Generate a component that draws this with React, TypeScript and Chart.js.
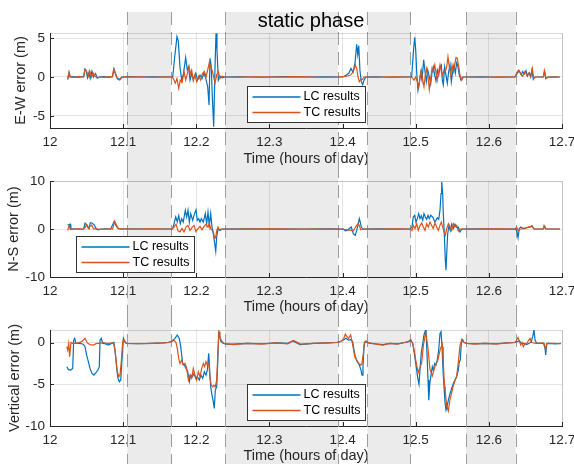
import React, { useEffect, useRef } from 'react';
import { Chart, registerables } from 'chart.js';

Chart.register(...registerables);

// ---------- data ----------
const xTicks = [12, 12.1, 12.2, 12.3, 12.4, 12.5, 12.6, 12.7];
const xTickLabels = ['12', '12.1', '12.2', '12.3', '12.4', '12.5', '12.6', '12.7'];
const staticStart = [12.1057, 12.2393, 12.434, 12.5688];
const staticEnd = [12.1654, 12.394, 12.4926, 12.6367];
const staticLabel = 'static phase';
const seriesLabels = ['LC results', 'TC results'];
const ewTicks = [-5, 0, 5];
const nsTicks = [-10, 0, 10];
const vTicks = [-10, -5, 0];

const ewLC = [
  [12.0242, -0.3], [12.026, 0.55], [12.0275, 0], [12.032, 0.05], [12.038, -0.05], [12.044, 0.05], [12.0462, 0.1],
  [12.0477, 1.0], [12.0495, 0.8], [12.0513, -0.1], [12.0532, 0.55], [12.055, -0.2], [12.0573, 0.75], [12.0595, 0],
  [12.0622, 0.45], [12.065, -0.15], [12.068, 0], [12.074, 0.05], [12.08, -0.05], [12.0855, 0.05], [12.0875, 1.05],
  [12.0893, 0.45], [12.0916, -0.15], [12.0951, -0.3], [12.098, 0], [12.106, 0.05], [12.12, 0], [12.14, 0.03], [12.16, 0],
  [12.1678, 0], [12.1705, 2.6], [12.1736, 5.2], [12.1754, 4.6], [12.1777, 1.3], [12.1801, -0.4], [12.1822, 0.25],
  [12.1855, 2.5], [12.1877, 0.9], [12.1896, 1.3], [12.1914, -0.4], [12.1937, 0.4], [12.1959, -0.3], [12.1992, 0.5],
  [12.2019, -0.4], [12.2051, 0.25], [12.2078, -0.2], [12.2105, 0.5], [12.2133, -0.3], [12.2156, -1.25], [12.2174, -3.6],
  [12.2188, 2.4], [12.2205, 1.3], [12.2219, -2.5], [12.2238, -6.4], [12.2256, 1.3], [12.227, 5.6], [12.2283, 3.5],
  [12.2301, -0.4], [12.2324, 0.1], [12.2356, -0.1], [12.2393, 0],
  [12.26, 0.03], [12.29, -0.03], [12.32, 0.05], [12.35, 0], [12.38, 0.03], [12.401, 0],
  [12.4056, 0.3], [12.4088, 0.5], [12.4115, 1.1], [12.4143, 0.6], [12.417, 1.8], [12.4193, 4.2], [12.4207, 2.9],
  [12.4221, 4.0], [12.4238, 0.8], [12.4256, -0.6], [12.4275, -1.0], [12.4293, -0.4], [12.432, 0],
  [12.445, 0.03], [12.465, -0.03], [12.485, 0],
  [12.4945, 0], [12.4967, 3.1], [12.4986, 5.1], [12.5, 3.5], [12.5014, 0.5], [12.5031, -1.7], [12.5049, -0.8],
  [12.5068, 0.55], [12.5086, -0.4], [12.5109, 2.2], [12.5127, 0.7], [12.5145, -0.6], [12.5164, 0.9], [12.5186, 0],
  [12.5205, -0.9], [12.5223, 0.55], [12.524, 1.3], [12.526, 0.25], [12.5277, -0.5], [12.5295, 0.9], [12.5314, 0.25],
  [12.5332, 1.3], [12.535, 1.55], [12.5364, -0.4], [12.5377, -1.0], [12.5396, 1.3], [12.5414, 0.25], [12.5432, -0.8],
  [12.5451, 0.7], [12.5469, 1.55], [12.5487, -0.6], [12.5506, 0.7], [12.5523, 1.55], [12.5541, 0.5], [12.556, 1.8],
  [12.5578, 1.3], [12.5596, 0.25], [12.5619, -0.4], [12.5642, 0], [12.5674, 0],
  [12.59, 0.03], [12.61, -0.03], [12.63, 0],
  [12.6358, 0], [12.6389, 0.5], [12.6416, 0.8], [12.6444, 0.25], [12.6463, 0.7], [12.6485, 0.4], [12.6508, 0.8],
  [12.6526, 0.1], [12.6553, 0.55], [12.6572, 0], [12.659, 0.9], [12.6608, -0.3], [12.6631, 0], [12.6744, 0],
  [12.6764, 0.7], [12.6781, -0.2], [12.6813, 0], [12.69, 0.02], [12.697, 0],
];

const ewTC = [
  [12.0242, -0.3], [12.026, 0.65], [12.0278, 0], [12.033, -0.05], [12.04, 0.05], [12.046, 0], [12.0479, 1.0],
  [12.0501, 0.7], [12.0524, 0.1], [12.0542, 0.8], [12.057, 0], [12.0588, 0.55], [12.0615, 0.1], [12.0643, -0.1],
  [12.067, 0], [12.075, -0.05], [12.082, 0.05], [12.085, 0], [12.0871, 1.0], [12.0898, 0.4], [12.0925, -0.3],
  [12.0953, -0.4], [12.098, -0.1], [12.1008, 0], [12.12, 0.03], [12.14, -0.03], [12.16, 0.02],
  [12.1664, 0], [12.1686, -0.2], [12.1713, -0.8], [12.1736, -0.2], [12.176, -1.45], [12.1781, -0.4], [12.1805, -0.7],
  [12.1832, 0.7], [12.1855, -0.4], [12.1877, 0.4], [12.19, 1.4], [12.1918, 0.4], [12.1937, 0.9], [12.1959, -0.5],
  [12.1982, 0.25], [12.2005, -0.6], [12.2033, 0.1], [12.206, -0.4], [12.2082, 0.4], [12.211, 0.7], [12.2133, 0],
  [12.2156, 0.9], [12.2178, 1.85], [12.2197, 1.3], [12.2215, 0.9], [12.2233, 0.25], [12.2256, -0.8], [12.2279, 0.25],
  [12.2301, 0.7], [12.2324, -0.2], [12.2352, 0.1], [12.2393, 0],
  [12.255, -0.03], [12.28, 0.03], [12.31, 0], [12.34, 0.04], [12.37, -0.03], [12.395, 0],
  [12.4056, 0.1], [12.411, 0.25], [12.4147, 0.7], [12.4174, 1.55], [12.4193, 1.1], [12.4211, 0], [12.4229, -0.6],
  [12.4247, -0.3], [12.427, -0.3], [12.4293, 0],
  [12.445, -0.03], [12.47, 0.03], [12.49, 0],
  [12.4945, 0], [12.4977, -0.4], [12.5, 0], [12.5022, -0.6], [12.5041, -1.3], [12.5059, 0], [12.5076, 0.9],
  [12.5096, -0.4], [12.5113, -1.25], [12.5131, 0.25], [12.515, 1.1], [12.5168, 0], [12.5186, -1.6], [12.5205, -0.2],
  [12.5223, 1.1], [12.524, 0.7], [12.526, 1.55], [12.5277, 0.55], [12.5295, -0.4], [12.5314, 0.7], [12.5332, 1.55],
  [12.535, 0.7], [12.5369, 0.25], [12.5387, 0.9], [12.5405, 0.7], [12.5424, 1.3], [12.5441, 2.6], [12.5459, 1.3],
  [12.5478, 0.25], [12.5496, 1.55], [12.5514, 0.7], [12.5533, 1.55], [12.5551, 2.5], [12.5569, 2.4], [12.5588, 1.3],
  [12.5605, 0.25], [12.5629, -0.4], [12.5651, 0], [12.5674, 0],
  [12.59, -0.03], [12.615, 0.03], [12.63, 0],
  [12.6358, 0], [12.6389, 0.7], [12.6408, 0.9], [12.6435, 0.4], [12.6463, 0.1], [12.6494, 0.7], [12.6517, 0.25],
  [12.6545, 0.5], [12.6572, 0.05], [12.6594, 1.1], [12.6613, -0.2], [12.6635, 0], [12.6744, 0], [12.6758, 0.8],
  [12.6777, -0.2], [12.6805, 0], [12.69, -0.02], [12.697, 0],
];

const nsLC = [
  [12.0242, 1.0], [12.026, 0.8], [12.0275, 1.0], [12.0285, 0], [12.033, 0.05], [12.04, -0.05], [12.046, 0],
  [12.0479, 1.2], [12.0506, 0.8], [12.0533, 0.1], [12.0551, 1.3], [12.0579, 1.2], [12.0606, 0.8], [12.0633, 0],
  [12.0661, -0.2], [12.069, 0], [12.076, 0.05], [12.083, 0], [12.0875, 1.5], [12.0898, 0.8], [12.093, 0.1],
  [12.096, 0], [12.105, 0.03], [12.13, 0], [12.16, 0],
  [12.1678, 0], [12.1695, 1.1], [12.1719, 2.5], [12.174, 1.5], [12.176, 2.8], [12.1781, 1.1], [12.1801, 2.15],
  [12.1822, 1.45], [12.185, 3.9], [12.1869, 2.5], [12.1887, 3.9], [12.1905, 1.45], [12.1924, 3.2], [12.1951, 1.8],
  [12.1969, 2.85], [12.1996, 4.0], [12.2014, 1.8], [12.2033, 2.15], [12.2051, 1.45], [12.2069, 2.15], [12.2096, 1.45],
  [12.2123, 3.2], [12.2142, 1.1], [12.216, 3.55], [12.2178, 0.75], [12.2197, 3.2], [12.2215, 0.4], [12.2233, -1.0],
  [12.2252, -3.05], [12.2266, -4.6], [12.2279, -1.65], [12.2297, 0], [12.2324, -0.3], [12.2352, 0],
  [12.27, 0.03], [12.31, -0.03], [12.35, 0], [12.38, 0.03], [12.401, 0],
  [12.4037, -0.4], [12.4065, -0.3], [12.4092, 0.1], [12.4119, 0.4], [12.4147, -1.0], [12.4174, -1.3], [12.4193, -0.3],
  [12.4211, 0.75], [12.4229, 2.15], [12.4242, 1.45], [12.4256, 0.4], [12.4275, 0],
  [12.45, 0.03], [12.47, -0.03], [12.4922, 0],
  [12.4949, 0.4], [12.4967, 2.5], [12.4986, 2.85], [12.5004, 1.45], [12.5022, 2.15], [12.5041, 3.2], [12.5059, 2.15],
  [12.5076, 2.75], [12.5096, 1.8], [12.5113, 3.2], [12.5131, 2.5], [12.515, 2.0], [12.5168, 2.85], [12.5186, 2.15],
  [12.5205, 2.85], [12.5223, 2.6], [12.524, 2.35], [12.526, 1.45], [12.5277, 1.8], [12.5295, 2.35], [12.5314, 2.0],
  [12.5332, 3.9], [12.5346, 7.4], [12.5355, 9.8], [12.5369, 7.4], [12.5377, 3.2], [12.5391, -1.0], [12.5405, -6.5],
  [12.5414, -8.6], [12.5424, -5.1], [12.5437, -1.0], [12.5455, 0.75], [12.5473, -0.3], [12.5492, 1.0], [12.5514, 0.1],
  [12.5537, 1.0], [12.556, 0.3], [12.5582, 0.4], [12.5605, -0.6], [12.5633, 0],
  [12.59, 0.03], [12.615, -0.03], [12.6358, 0],
  [12.6381, -0.3], [12.6399, -1.8], [12.6416, 0.1], [12.6435, 0.4], [12.6471, 0.1], [12.6517, 0.3], [12.6563, 0.4],
  [12.659, 0.7], [12.6617, 0], [12.6744, 0], [12.6764, 0.55], [12.6781, 0], [12.6973, 0],
];

const nsTC = [
  [12.0242, -0.3], [12.0262, 0.75], [12.0278, -0.1], [12.033, 0], [12.04, 0.05], [12.046, 0], [12.0484, 0.4],
  [12.0501, 0.9], [12.0524, 0.1], [12.0542, 0.5], [12.057, 0.8], [12.0597, 0], [12.0625, 0.1], [12.066, 0],
  [12.073, -0.05], [12.08, 0.05], [12.0855, 0], [12.0884, 1.65], [12.0916, 0.55], [12.0943, 0], [12.097, 0.05],
  [12.11, 0], [12.14, 0.03], [12.1664, 0],
  [12.1695, 0.4], [12.1723, 1.0], [12.175, -0.4], [12.1777, -0.6], [12.1805, 0.1], [12.1832, -0.6], [12.1859, 0.4],
  [12.1887, 0.75], [12.1914, -0.3], [12.1941, 0.3], [12.1969, 0.75], [12.1996, -0.6], [12.2023, 0.1], [12.2051, 0.55],
  [12.2078, -0.15], [12.2105, 0.55], [12.2133, 1.0], [12.216, 0.4], [12.2178, 1.25], [12.2197, 0.1], [12.2215, -0.3],
  [12.2233, -0.6], [12.2252, -2.0], [12.2266, -1.65], [12.2279, -0.4], [12.2297, 0.4], [12.2315, -0.15], [12.2342, 0],
  [12.26, -0.03], [12.3, 0.03], [12.34, 0], [12.37, -0.03], [12.401, 0],
  [12.4037, -0.15], [12.4119, -0.3], [12.4147, -0.4], [12.4174, 0.3], [12.4193, 0.75], [12.4211, 1.1], [12.4229, 0.75],
  [12.4247, -0.15], [12.4275, 0],
  [12.455, -0.03], [12.475, 0.03], [12.4922, 0],
  [12.4949, -0.3], [12.4967, 0.75], [12.499, 0.1], [12.5014, 1.1], [12.5035, -0.3], [12.5059, 0.7], [12.5082, 1.25],
  [12.5104, 0.4], [12.5127, -0.3], [12.515, 1.1], [12.5172, 0.4], [12.5195, 1.45], [12.5218, 0.75], [12.524, 0.1],
  [12.5264, 1.25], [12.5287, 0.4], [12.5309, -0.3], [12.5332, 0.75], [12.535, 1.45], [12.5369, 0.4], [12.5387, -0.6],
  [12.5405, -1.3], [12.5424, 0.1], [12.5446, 1.1], [12.5469, 0.4], [12.5492, -0.3], [12.5514, 1.1], [12.5537, 0.4],
  [12.556, 0.75], [12.5582, -0.4], [12.5605, 0],
  [12.585, -0.03], [12.61, 0.03], [12.6358, 0],
  [12.6381, 0.4], [12.6403, -0.4], [12.6426, 0], [12.6494, 0.05], [12.654, 0.4], [12.6586, 0.55], [12.6617, 0],
  [12.6744, 0], [12.6754, 0.7], [12.6772, 0], [12.6973, 0],
];

const vLC = [
  [12.023, -2.9], [12.0252, -3.25], [12.0283, -3.3], [12.031, -3.1], [12.0324, 0.3], [12.0338, 0.5], [12.0355, -0.1],
  [12.041, -0.1], [12.0455, -0.2], [12.0479, -0.5], [12.0501, -1.5], [12.0524, -2.3], [12.0547, -3.1], [12.0574, -3.7],
  [12.0601, -3.9], [12.0629, -3.6], [12.0656, -3.3], [12.0674, -2.9], [12.0684, 0.3], [12.0701, 0.5], [12.072, -0.1],
  [12.0752, -0.15], [12.0797, -0.3], [12.0843, -0.1], [12.0875, 0], [12.0893, -1.3], [12.0912, -3.1], [12.093, -4.3],
  [12.0948, -4.7], [12.0967, -4.5], [12.0984, -2.1], [12.1003, 0.5], [12.1022, 0.1], [12.105, -0.1],
  [12.12, -0.15], [12.14, -0.1], [12.155, -0.05], [12.1617, 0],
  [12.1664, 0.15], [12.1709, 0.5], [12.174, 0.9], [12.1768, 0.5], [12.1787, -0.5], [12.1814, -2.5], [12.1836, -2.7],
  [12.1859, -3.1], [12.1883, -3.5], [12.1905, -4.7], [12.1924, -3.9], [12.1946, -4.1], [12.1969, -3.7], [12.1992, -4.3],
  [12.2014, -4.1], [12.2041, -4.5], [12.2064, -3.9], [12.2088, -4.3], [12.211, -3.5], [12.2133, -3.9], [12.2151, -3.3],
  [12.217, -1.3], [12.2183, -3.3], [12.2197, -5.3], [12.2215, -6.3], [12.2233, -7.1], [12.2246, -7.9], [12.226, -5.7],
  [12.2279, -5.3], [12.2293, -2.5], [12.2306, 1.1], [12.232, 0.7], [12.2338, 0.1], [12.2369, -0.1], [12.2416, -0.2],
  [12.25, -0.2], [12.27, -0.1], [12.29, -0.15], [12.31, -0.05], [12.325, -0.1], [12.332, 0.2], [12.342, -0.25],
  [12.36, -0.1], [12.38, -0.05], [12.392, 0],
  [12.3965, 0.1], [12.401, 0.3], [12.4047, 0.5], [12.4078, 0.3], [12.4111, 0.35], [12.4139, 0.1], [12.4156, -0.9],
  [12.4174, -1.7], [12.4201, -2.3], [12.4229, -2.7], [12.4252, -3.3], [12.4266, -3.9], [12.4279, -2.9], [12.4293, -0.5],
  [12.4307, 0.1], [12.4338, 0], [12.4375, -0.1],
  [12.445, -0.15], [12.455, -0.25], [12.465, -0.1], [12.475, -0.15], [12.485, 0], [12.4899, 0.1],
  [12.4932, 0.35], [12.4959, -0.1], [12.4981, -1.3], [12.5004, -2.7], [12.5027, -4.2], [12.5045, -5.0], [12.5059, -3.2],
  [12.5076, -1.2], [12.5096, -0.1], [12.5113, 0.9], [12.5131, 1.4], [12.5141, 1.5], [12.5155, -1.5], [12.5168, -4.5],
  [12.5179, -6.9], [12.5192, -5.0], [12.5209, -3.9], [12.5227, -2.9], [12.524, -3.3], [12.526, -2.5], [12.5277, -2.7],
  [12.5295, -2.1], [12.5314, -0.9], [12.5332, 1.1], [12.5346, 1.3], [12.536, -0.5], [12.5373, -3.3], [12.5387, -5.3],
  [12.54, -7.1], [12.5414, -8.1], [12.5428, -7.7], [12.5446, -6.9], [12.5469, -6.1], [12.5492, -5.5], [12.5514, -4.9],
  [12.5537, -4.5], [12.556, -4.1], [12.5582, -3.3], [12.5596, -2.3], [12.561, -2.1], [12.5623, -0.1], [12.5642, 0.35],
  [12.566, 0], [12.5697, -0.1],
  [12.58, -0.15], [12.595, -0.1], [12.61, -0.15], [12.625, -0.05], [12.6358, 0],
  [12.6389, 0.1], [12.6416, 0.2], [12.6444, -0.1], [12.6471, -0.1], [12.6517, -0.25], [12.6553, -0.1], [12.6581, 0.1],
  [12.6599, 0.7], [12.6617, 1.5], [12.6631, 0.3], [12.6654, -0.1], [12.6722, -0.1], [12.6754, -0.1], [12.6768, -0.7],
  [12.6777, -1.5], [12.6791, -0.2], [12.6809, -0.1], [12.6904, -0.15], [12.6986, -0.1],
];

const vTC = [
  [12.023, -0.5], [12.0242, -0.9], [12.0256, -0.1], [12.0269, -1.7], [12.0287, 0], [12.031, -0.1], [12.0365, -0.1],
  [12.0433, 0.1], [12.0479, 0.5], [12.051, -0.05], [12.0547, -0.25], [12.0593, -0.3], [12.0638, -0.1], [12.0684, -0.1],
  [12.0729, 0], [12.0775, -0.1], [12.082, -0.1], [12.0866, 0], [12.0889, -0.9], [12.0903, -2.1], [12.0921, -3.5],
  [12.094, -4.1], [12.0957, -3.9], [12.0976, -2.1], [12.0994, 0.1], [12.1012, 0.35], [12.1039, -0.1],
  [12.12, -0.15], [12.14, -0.1], [12.155, -0.05], [12.1617, 0],
  [12.1664, 0.1], [12.1695, 0.3], [12.1723, 0], [12.174, -0.7], [12.176, -1.9], [12.1777, -2.5], [12.1801, -2.1],
  [12.1822, -2.7], [12.1846, -2.5], [12.1869, -3.1], [12.1892, -4.5], [12.1914, -3.9], [12.1937, -4.3], [12.1959, -3.1],
  [12.1982, -3.9], [12.2005, -4.5], [12.2028, -3.5], [12.2051, -4.1], [12.2074, -3.1], [12.2096, -2.5], [12.2115, -2.9],
  [12.2133, -2.3], [12.2151, -2.7], [12.217, -2.5], [12.2188, -4.3], [12.2205, -5.1], [12.2224, -5.3], [12.2242, -5.1],
  [12.226, -5.3], [12.2279, -4.5], [12.2297, -0.9], [12.2311, 1.3], [12.2324, 0.7], [12.2347, 0.2], [12.2379, -0.1],
  [12.25, -0.25], [12.27, -0.1], [12.29, -0.2], [12.31, -0.05], [12.325, -0.15], [12.333, 0.25], [12.343, -0.2],
  [12.36, -0.1], [12.38, -0.05], [12.392, 0],
  [12.3965, 0.1], [12.401, 0.35], [12.4037, 1.0], [12.4056, 0.75], [12.4084, 0.5], [12.4111, 0.9], [12.4129, 0.1],
  [12.4147, -0.7], [12.4166, -1.7], [12.4193, -2.1], [12.4221, -2.5], [12.4248, -2.7], [12.4266, -2.5], [12.4284, -1.3],
  [12.4297, 0], [12.432, 0.2], [12.4352, 0],
  [12.445, -0.2], [12.455, -0.3], [12.465, -0.1], [12.475, -0.2], [12.485, 0], [12.4899, 0.1],
  [12.4932, 0.2], [12.4959, -0.1], [12.4981, -1.0], [12.5004, -2.3], [12.5035, -3.6], [12.5059, -3.0], [12.5082, -2.4],
  [12.5104, -0.4], [12.5137, 1.2], [12.5164, -0.4], [12.5195, -3.2], [12.5227, -4.0], [12.5264, -2.8], [12.5301, -2.2],
  [12.5336, -0.8], [12.5364, -0.2], [12.5391, -4.8], [12.5424, -7.6], [12.5446, -8.2], [12.5469, -6.8], [12.5492, -6.0],
  [12.5514, -5.2], [12.5537, -4.6], [12.556, -4.0], [12.5582, -2.4], [12.5605, -0.4], [12.5629, 0.35], [12.5664, 0],
  [12.5701, -0.1],
  [12.58, -0.2], [12.595, -0.1], [12.61, -0.2], [12.625, -0.05], [12.6358, 0],
  [12.6381, 0.3], [12.6399, 0.6], [12.6416, 0.2], [12.6435, -0.3], [12.6453, 0], [12.6471, -0.5], [12.6494, -0.1],
  [12.6517, -0.15], [12.6545, 0.3], [12.6563, 0.5], [12.6581, 0], [12.6645, -0.1], [12.6744, -0.05], [12.6764, -0.5],
  [12.6777, -0.8], [12.6791, -0.1], [12.6904, -0.1], [12.6986, -0.15],
];

// ---------- styling ----------
const FONT = "'Liberation Sans', Arial, Helvetica, sans-serif";
const AXIS_COLOR = '#262626';
const LC_COLOR = '#0072BD';
const TC_COLOR = '#D95319';
const SHADE = '#ebebeb';

type Panel = {
  key: string;
  top: number;
  height: number;
  padTop: number;
  axisH: number;
  yMin: number;
  yMax: number;
  yTicks: number[];
  yLabel: string;
  yTitlePad: number;
  xTitlePad: number;
  lc: number[][];
  tc: number[][];
  legendX: number;
  legendY: number;
  shadeTop: number;
  showTitle: boolean;
};

const panels: Panel[] = [
  { key: 'ew', top: 0, height: 165, padTop: 33, axisH: 37, yMin: -6.55, yMax: 5.65, yTicks: ewTicks,
    yLabel: 'E-W error (m)', yTitlePad: 14, xTitlePad: -1.25, lc: ewLC, tc: ewTC, legendX: 12.269, legendY: -1.16,
    shadeTop: 12, showTitle: true },
  { key: 'ns', top: 165, height: 149, padTop: 16, axisH: 37, yMin: -10, yMax: 10, yTicks: nsTicks,
    yLabel: 'N-S error (m)', yTitlePad: 7, xTitlePad: -0.25, lc: nsLC, tc: nsTC, legendX: 12.0356, legendY: -1.4,
    shadeTop: 0, showTitle: false },
  { key: 'v', top: 314, height: 150, padTop: 16, axisH: 38, yMin: -10, yMax: 1.5, yTicks: vTicks,
    yLabel: 'Vertical error (m)', yTitlePad: 7.5, xTitlePad: 0.75, lc: vLC, tc: vTC, legendX: 12.269, legendY: -4.97,
    shadeTop: 0, showTitle: false },
];

function makeDecor(p: Panel) {
  return {
    id: 'decor_' + p.key,
    beforeDraw(chart: any) {
      const { ctx, width, height } = chart;
      const x = chart.scales.x;
      ctx.save();
      ctx.fillStyle = '#ffffff';
      ctx.fillRect(0, 0, width, height);
      ctx.fillStyle = SHADE;
      staticStart.forEach((s, i) => {
        const a = x.getPixelForValue(s);
        const b = x.getPixelForValue(staticEnd[i]);
        ctx.fillRect(a, p.shadeTop, b - a, height - p.shadeTop);
      });
      ctx.restore();
    },
    beforeDatasetsDraw(chart: any) {
      const { ctx, height } = chart;
      const x = chart.scales.x;
      ctx.save();
      ctx.strokeStyle = '#9c9c9c';
      ctx.lineWidth = 1;
      ctx.setLineDash([13, 7]);
      staticStart.forEach((s, i) => {
        [s, staticEnd[i]].forEach((v) => {
          const px = Math.round(x.getPixelForValue(v)) + 0.5;
          ctx.beginPath();
          ctx.moveTo(px, p.shadeTop);
          ctx.lineTo(px, height);
          ctx.stroke();
        });
      });
      ctx.restore();
    },
    afterDraw(chart: any) {
      const { ctx, chartArea } = chart;
      const x = chart.scales.x;
      const y = chart.scales.y;
      const { left, right, top, bottom } = chartArea;
      ctx.save();
      // light top/right box
      ctx.strokeStyle = 'rgba(0,0,0,0.15)';
      ctx.lineWidth = 1;
      ctx.beginPath();
      ctx.moveTo(left, Math.round(top) + 0.5);
      ctx.lineTo(right, Math.round(top) + 0.5);
      ctx.moveTo(Math.round(right) + 0.5, top);
      ctx.lineTo(Math.round(right) + 0.5, bottom);
      ctx.stroke();
      // inward ticks
      ctx.strokeStyle = AXIS_COLOR;
      ctx.beginPath();
      xTicks.forEach((v) => {
        const px = Math.round(x.getPixelForValue(v)) + 0.5;
        ctx.moveTo(px, bottom);
        ctx.lineTo(px, bottom - 4);
      });
      p.yTicks.forEach((v) => {
        const py = Math.round(y.getPixelForValue(v)) + 0.5;
        ctx.moveTo(left, py);
        ctx.lineTo(left + 4, py);
      });
      ctx.stroke();
      // legend
      const lx = Math.round(x.getPixelForValue(p.legendX)) + 0.5;
      const ly = Math.round(y.getPixelForValue(p.legendY)) + 0.5;
      const bw = 118;
      const bh = 36;
      ctx.fillStyle = '#ffffff';
      ctx.fillRect(lx, ly, bw, bh);
      ctx.strokeStyle = '#333333';
      ctx.lineWidth = 1;
      ctx.strokeRect(lx, ly, bw, bh);
      ctx.font = `12.5px ${FONT}`;
      ctx.textBaseline = 'middle';
      ctx.textAlign = 'left';
      chart.data.datasets.forEach((ds: any, i: number) => {
        const yy = ly + 10.5 + i * 15.5;
        ctx.strokeStyle = ds.borderColor;
        ctx.lineWidth = 1.3;
        ctx.beginPath();
        ctx.moveTo(lx + 5, yy);
        ctx.lineTo(lx + 53, yy);
        ctx.stroke();
        ctx.fillStyle = '#000000';
        ctx.fillText(ds.label, lx + 56, yy);
      });
      if (p.showTitle) {
        ctx.font = `20px ${FONT}`;
        ctx.fillStyle = '#000000';
        ctx.textAlign = 'center';
        ctx.textBaseline = 'alphabetic';
        ctx.fillText(staticLabel, (left + right) / 2 + 5, 27);
      }
      ctx.restore();
    },
  };
}

function buildConfig(p: Panel): any {
  return {
    type: 'line',
    data: {
      datasets: [
        { label: seriesLabels[0], data: p.lc, borderColor: LC_COLOR, borderWidth: 1.2, pointRadius: 0,
          fill: false, tension: 0, order: 1 },
        { label: seriesLabels[1], data: p.tc, borderColor: TC_COLOR, borderWidth: 1.2, pointRadius: 0,
          fill: false, tension: 0, order: 0 },
      ],
    },
    options: {
      responsive: false,
      animation: false,
      events: [],
      devicePixelRatio: 1,
      layout: { padding: { top: p.padTop, right: 12, left: 0, bottom: 0 } },
      plugins: { legend: { display: false }, tooltip: { enabled: false }, title: { display: false } },
      scales: {
        x: {
          type: 'linear',
          min: 12,
          max: 12.7,
          afterFit: (s: any) => { s.height = p.axisH; s.paddingLeft = 0; s.paddingRight = 0; },
          afterBuildTicks: (s: any) => { s.ticks = xTicks.map((v) => ({ value: v })); },
          ticks: {
            autoSkip: false,
            maxRotation: 0,
            padding: 6,
            color: AXIS_COLOR,
            font: { family: FONT, size: 13.5 },
            callback: (_v: any, i: number) => xTickLabels[i],
          },
          grid: { color: 'rgba(0,0,0,0.1)', drawTicks: false, lineWidth: 1 },
          border: { display: true, color: AXIS_COLOR, width: 1 },
          title: {
            display: true,
            text: 'Time (hours of day)',
            color: AXIS_COLOR,
            font: { family: FONT, size: 14.5, lineHeight: 1 },
            padding: { top: 0, bottom: p.xTitlePad },
          },
        },
        y: {
          type: 'linear',
          min: p.yMin,
          max: p.yMax,
          afterFit: (s: any) => { s.width = 50; s.paddingTop = 0; s.paddingBottom = 0; },
          afterBuildTicks: (s: any) => { s.ticks = p.yTicks.map((v) => ({ value: v })); },
          ticks: {
            autoSkip: false,
            padding: 5,
            color: AXIS_COLOR,
            font: { family: FONT, size: 13.5 },
            callback: (v: any) => String(v),
          },
          grid: { color: 'rgba(0,0,0,0.1)', drawTicks: false, lineWidth: 1 },
          border: { display: true, color: AXIS_COLOR, width: 1 },
          title: {
            display: true,
            text: p.yLabel,
            color: AXIS_COLOR,
            font: { family: FONT, size: 14.5, lineHeight: 1 },
            padding: { top: p.yTitlePad, bottom: 0 },
          },
        },
      },
    },
    plugins: [makeDecor(p)],
  };
}

function PanelChart({ p }: { p: Panel }) {
  const ref = useRef<HTMLCanvasElement | null>(null);
  useEffect(() => {
    if (!ref.current) return;
    const chart = new Chart(ref.current, buildConfig(p));
    return () => chart.destroy();
  }, [p]);
  return (
    <canvas
      ref={ref}
      width={574}
      height={p.height}
      style={{ position: 'absolute', left: 0, top: p.top, width: 574, height: p.height, display: 'block' }}
    />
  );
}

export default function App() {
  return (
    <div style={{ position: 'absolute', left: 0, top: 0, width: 574, height: 464, background: '#ffffff', overflow: 'hidden' }}>
      {panels.map((p) => (
        <PanelChart key={p.key} p={p} />
      ))}
    </div>
  );
}
